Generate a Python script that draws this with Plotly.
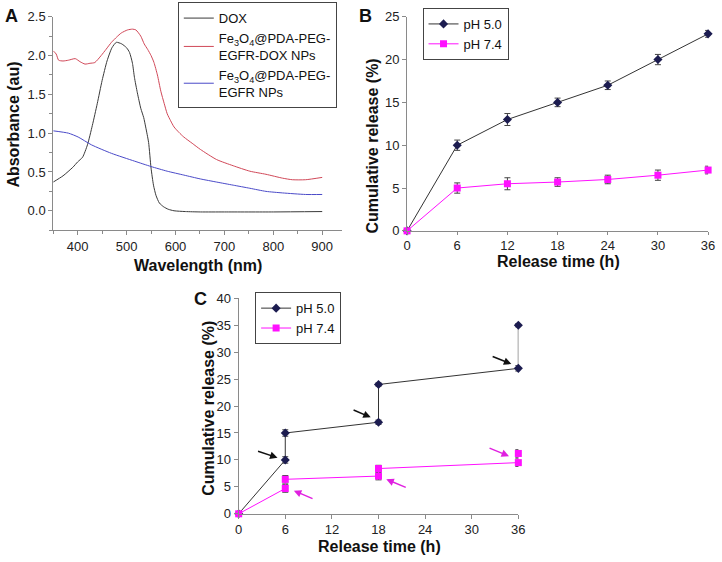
import plotly.graph_objects as go

# ---------------- Panel A data (UV-vis) ----------------
dox_wl = [350, 370, 390, 400, 410, 420, 430, 440, 450, 460, 470, 479, 490, 500, 506, 512, 516, 522, 529, 535, 539, 545, 550, 555, 560, 567, 576, 585, 597, 620, 651, 700, 800, 900]
dox_abs = [0.37, 0.45, 0.56, 0.63, 0.69, 0.85, 1.1, 1.38, 1.68, 1.93, 2.10, 2.17, 2.15, 2.10, 2.04, 1.9, 1.72, 1.52, 1.32, 1.2, 1.08, 0.88, 0.55, 0.33, 0.2, 0.1, 0.05, 0.02, 0.0, -0.01, -0.015, -0.015, -0.015, -0.01]

red_wl = [350, 356, 361, 370, 381, 395, 405, 415, 425, 435, 448, 458, 469, 480, 489, 502, 512, 519, 529, 536, 543, 550, 556, 563, 570, 577, 583, 590, 597, 607, 617, 634, 651, 684, 718, 752, 785, 819, 839, 866, 900]
red_abs = [2.06, 2.02, 1.94, 1.93, 1.94, 1.96, 1.92, 1.89, 1.90, 1.91, 2.0, 2.08, 2.17, 2.24, 2.29, 2.33, 2.34, 2.33, 2.25, 2.15, 2.08, 2.0, 1.91, 1.75, 1.54, 1.38, 1.25, 1.16, 1.08, 1.01, 0.95, 0.87, 0.79, 0.66, 0.58, 0.51, 0.47, 0.42, 0.40, 0.40, 0.43]

blue_wl = [350, 381, 401, 428, 469, 516, 550, 583, 617, 651, 684, 718, 752, 785, 819, 866, 900]
blue_abs = [1.03, 1.0, 0.95, 0.85, 0.74, 0.64, 0.57, 0.51, 0.46, 0.41, 0.37, 0.33, 0.29, 0.25, 0.23, 0.21, 0.21]

# ---------------- Panel B data ----------------
b_time = [0, 6, 12, 18, 24, 30, 36]
b_ph50 = [0, 10, 13, 15, 17, 20, 23]
b_ph50_err = [0, 0.6, 0.7, 0.5, 0.5, 0.6, 0.4]
b_ph74 = [0, 5, 5.5, 5.7, 6, 6.5, 7.1]
b_ph74_err = [0, 0.6, 0.7, 0.5, 0.5, 0.6, 0.45]

# ---------------- Panel C data ----------------
c_time = [0, 6, 6, 18, 18, 36, 36]
c_ph50 = [0, 10, 15, 17, 24, 27, 35]
c_ph50_err = [0, 0.6, 0.6, 0.4, 0.3, 0.5, 0.3]
c_ph74 = [0, 4.7, 6.4, 7.0, 8.4, 9.5, 11.2]
c_ph74_err = [0, 0.7, 0.7, 0.7, 0.6, 0.7, 0.7]

# arrows in panel C: (head x, head y, tail x, tail y, colour)
c_arrows = [
    (5.0, 10.4, 2.3, 11.7, "#111111"),
    (17.0, 17.9, 14.6, 19.4, "#111111"),
    (35.1, 27.8, 32.5, 29.3, "#111111"),
    (7.1, 4.3, 9.7, 2.7, "#e020e0"),
    (19.0, 6.4, 21.7, 4.8, "#e020e0"),
    (34.8, 10.7, 32.1, 12.3, "#e020e0"),
]

FONT = "Liberation Sans, Arial, sans-serif"
AX = "#8a8a8a"
NAVY = "#1c1c50"
MAG = "#ff10ff"
LINE_DARK = "#333333"

fig = go.Figure()

# Panel A traces
fig.add_trace(go.Scatter(x=dox_wl, y=dox_abs, mode="lines", name="DOX",
                         line=dict(color="#3a3a3a", width=1, shape="spline", smoothing=0.6),
                         xaxis="x", yaxis="y", legend="legend"))
fig.add_trace(go.Scatter(x=red_wl, y=red_abs, mode="lines",
                         name="Fe<sub>3</sub>O<sub>4</sub>@PDA-PEG-<br>EGFR-DOX NPs",
                         line=dict(color="#d04858", width=1, shape="spline", smoothing=0.6),
                         xaxis="x", yaxis="y", legend="legend"))
fig.add_trace(go.Scatter(x=blue_wl, y=blue_abs, mode="lines",
                         name="Fe<sub>3</sub>O<sub>4</sub>@PDA-PEG-<br>EGFR NPs",
                         line=dict(color="#4a4ac8", width=1, shape="spline", smoothing=0.6),
                         xaxis="x", yaxis="y", legend="legend"))

# Panel B traces
fig.add_trace(go.Scatter(x=b_time, y=b_ph50, mode="lines+markers", name="pH 5.0",
                         line=dict(color=LINE_DARK, width=1),
                         marker=dict(symbol="diamond", size=7, color=NAVY),
                         error_y=dict(type="data", array=b_ph50_err, color="#444", thickness=1, width=3),
                         cliponaxis=False, xaxis="x2", yaxis="y2", legend="legend2"))
fig.add_trace(go.Scatter(x=b_time, y=b_ph74, mode="lines+markers", name="pH 7.4",
                         line=dict(color=MAG, width=1),
                         marker=dict(symbol="square", size=7, color=MAG),
                         error_y=dict(type="data", array=b_ph74_err, color="#444", thickness=1, width=3),
                         cliponaxis=False, xaxis="x2", yaxis="y2", legend="legend2"))

# Panel C traces
fig.add_trace(go.Scatter(x=c_time, y=c_ph50, mode="lines+markers", name="pH 5.0",
                         line=dict(color=LINE_DARK, width=1),
                         marker=dict(symbol="diamond", size=7, color=NAVY),
                         error_y=dict(type="data", array=c_ph50_err, color="#444", thickness=1, width=3),
                         cliponaxis=False, xaxis="x3", yaxis="y3", legend="legend3"))
fig.add_trace(go.Scatter(x=c_time, y=c_ph74, mode="lines+markers", name="pH 7.4",
                         line=dict(color=MAG, width=1),
                         marker=dict(symbol="square", size=7, color=MAG),
                         error_y=dict(type="data", array=c_ph74_err, color="#444", thickness=1, width=3),
                         cliponaxis=False, xaxis="x3", yaxis="y3", legend="legend3"))

tickfont = dict(family=FONT, size=13, color="#222")
common = dict(showgrid=False, zeroline=False, showline=True, linecolor=AX, linewidth=1,
              ticks="outside", ticklen=4, tickcolor=AX, tickfont=tickfont)

W, H = 722, 562
def px(x):
    return x / W
def py(y):
    return 1 - y / H

legend_common = dict(font=dict(family=FONT, size=13, color="#111"), bgcolor="white",
                     bordercolor="#444", borderwidth=1, xanchor="left", yanchor="top",
                     itemwidth=30, tracegroupgap=0)

fig.update_layout(
    width=W, height=H, margin=dict(l=0, r=0, t=0, b=0),
    paper_bgcolor="white", plot_bgcolor="white",
    font=dict(family=FONT, color="#111"),
    xaxis=dict(common, domain=[px(50), px(343)], range=[350, 940], tickvals=[400, 500, 600, 700, 800, 900],
               anchor="y", minor=dict(dtick=50, tick0=350, ticks="outside", ticklen=3, tickcolor=AX)),
    yaxis=dict(common, domain=[py(229.3), py(10)], range=[-0.25, 2.5], dtick=0.5, tick0=0, tickformat=".1f",
               anchor="x", minor=dict(dtick=0.25, tick0=0, ticks="outside", ticklen=3, tickcolor=AX)),
    xaxis2=dict(common, domain=[px(409.3), px(715)], range=[0, 36], dtick=6, anchor="y2", ticklen=3),
    yaxis2=dict(common, domain=[py(230), py(10)], range=[0, 25], dtick=5, anchor="x2"),
    xaxis3=dict(common, domain=[px(238.3), px(522.3)], range=[0, 36], dtick=6, anchor="y3"),
    yaxis3=dict(common, domain=[py(520.7), py(299.3)], range=[0, 40], dtick=5, anchor="x3"),
    legend=dict(legend_common, x=px(176.5), y=py(-5)),
    legend2=dict(legend_common, x=px(425), y=py(1)),
    legend3=dict(legend_common, x=px(255), y=py(293)),
)

title_font = dict(family=FONT, size=16, color="#111")
letter_font = dict(family=FONT, size=18, color="#111")
ann = []
# axis titles
ann.append(dict(text="<b>Absorbance (au)</b>", x=px(10), y=py(121), textangle=-90, font=title_font))
ann.append(dict(text="<b>Wavelength (nm)</b>", x=px(197.5), y=py(266), font=title_font))
ann.append(dict(text="<b>Cumulative release (%)</b>", x=px(374), y=py(143), textangle=-90, font=title_font))
ann.append(dict(text="<b>Release time (h)</b>", x=px(563), y=py(261), font=title_font))
ann.append(dict(text="<b>Cumulative release (%)</b>", x=px(207), y=py(412), textangle=-90, font=title_font))
ann.append(dict(text="<b>Release time (h)</b>", x=px(381), y=py(554), font=title_font))
# panel letters
ann.append(dict(text="<b>A</b>", x=px(8), y=py(9), font=letter_font))
ann.append(dict(text="<b>B</b>", x=px(367), y=py(9), font=letter_font))
ann.append(dict(text="<b>C</b>", x=px(200), y=py(300), font=letter_font))
for a in ann:
    a.update(xref="paper", yref="paper", showarrow=False, xanchor="center", yanchor="middle")

for hx, hy, tx, ty, col in c_arrows:
    ann.append(dict(x=hx, y=hy, ax=tx, ay=ty, xref="x3", yref="y3", axref="x3", ayref="y3",
                    text="", showarrow=True, arrowhead=2, arrowsize=1, arrowwidth=1.5,
                    arrowcolor=col, standoff=0))

fig.update_layout(annotations=ann)
fig.write_html("out.html", config={"displayModeBar": False},
               post_script="document.body.style.margin='0';document.body.style.padding='0';"
                           "document.body.style.overflow='hidden';")
